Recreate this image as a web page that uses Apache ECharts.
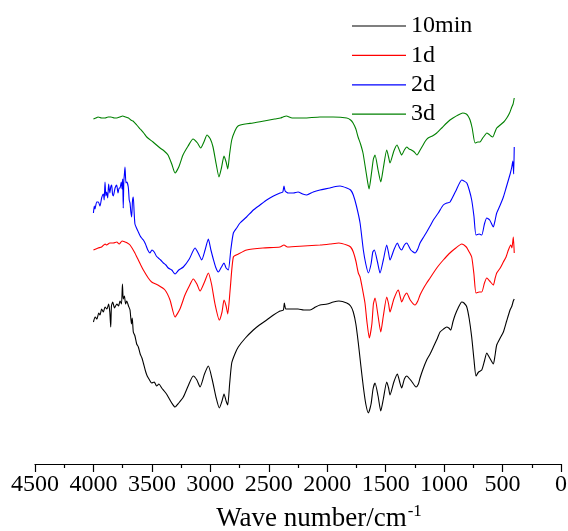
<!DOCTYPE html>
<html>
<head>
<meta charset="utf-8">
<script src="https://cdn.jsdelivr.net/npm/echarts@6/dist/echarts.min.js"></script>
<style>
  html, body { margin: 0; padding: 0; background: #fff; }
  #chart { width: 568px; height: 531px; }
</style>
</head>
<body>
<div id="chart"></div>
<script>
// FTIR spectra: [wavenumber (cm^-1), transmittance (a.u., offset per sample)]
const seriesNames = ['10min', '1d', '2d', '3d'];
const xTicks = [4500, 4000, 3500, 3000, 2500, 2000, 1500, 1000, 500, 0];

const spec10min = [
  [4000,142],[3985,147],[3970,145],[3955,151],[3944,149],[3930,155],[3915,152],[3901,157],
  [3885,155],[3870,160],[3860,152],[3852,137],[3846,158],[3835,162],[3820,156],[3800,160],
  [3785,158],[3773,163],[3760,160],[3752,180],[3745,165],[3735,168],[3725,160],[3715,163],
  [3700,158],[3687,154],[3675,140],[3668,146],[3659,132],[3645,128],[3630,120],[3616,117],
  [3600,110],[3585,106],[3573,101],[3555,93],[3540,88],[3520,84],[3502,81],[3480,82],
  [3460,78],[3440,80],[3416,76],[3395,73],[3375,70],[3360,67],[3330,61],[3302,57],
  [3270,61],[3231,67],[3190,78],[3146,88],[3115,84],[3088,77],[3050,90],[3017,98],
  [2985,85],[2950,66],[2923,56],[2900,63],[2883,70],[2865,63],[2851,59],[2835,80],
  [2817,101],[2790,110],[2761,117],[2700,126],[2632,134],[2580,139],[2518,144],[2460,149],
  [2404,153],[2375,154],[2367,161],[2355,155],[2333,155],[2250,155],[2200,154],[2147,154],
  [2100,157],[2062,159],[2000,160],[1948,162],[1900,163],[1833,161],[1800,158],[1777,152],
  [1755,140],[1734,121],[1712,98],[1691,77],[1670,60],[1648,51],[1625,60],[1608,75],
  [1591,81],[1565,68],[1542,53],[1520,65],[1491,82],[1475,76],[1463,69],[1430,82],
  [1400,90],[1380,82],[1363,76],[1340,85],[1320,88],[1280,83],[1240,77],[1220,80],
  [1206,86],[1180,95],[1149,104],[1120,110],[1092,117],[1060,125],[1035,132],[1005,135],
  [978,137],[960,136],[943,134],[925,142],[906,149],[880,156],[849,162],[830,161],
  [806,157],[785,145],[764,127],[745,105],[727,88],[705,92],[678,94],[655,103],
  [635,111],[610,106],[579,100],[565,108],[550,119],[520,126],[493,132],[465,143],
  [436,154],[420,158],[408,163],[400,165]
];

const spec1d = [
  [4000,214],[3960,216],[3930,217],[3900,220],[3887,219],[3860,221],[3830,221],[3800,222],
  [3780,220],[3755,223],[3730,222],[3710,221],[3687,219],[3650,212],[3616,204],[3595,199],
  [3573,194],[3531,186],[3502,182],[3450,179],[3388,174],[3345,164],[3302,147],[3260,155],
  [3217,169],[3180,178],[3146,185],[3115,180],[3088,173],[3050,182],[3017,191],[2990,180],
  [2960,160],[2923,144],[2900,152],[2883,164],[2865,158],[2851,150],[2830,175],[2803,207],
  [2760,210],[2689,214],[2550,216],[2404,217],[2370,219],[2340,217],[2200,218],[2062,219],
  [1976,220],[1900,221],[1833,219],[1800,217],[1777,212],[1755,203],[1734,191],[1719,187],
  [1700,176],[1677,161],[1660,142],[1640,126],[1618,140],[1605,160],[1591,166],[1565,148],
  [1542,132],[1520,148],[1491,167],[1475,160],[1463,152],[1430,165],[1392,174],[1375,167],
  [1363,162],[1340,168],[1320,171],[1290,164],[1249,159],[1225,163],[1206,169],[1175,176],
  [1149,181],[1120,186],[1092,191],[1050,198],[1007,204],[960,210],[900,216],[849,220],
  [810,217],[790,213],[764,207],[745,190],[727,171],[700,172],[678,172],[655,181],
  [635,186],[610,183],[579,179],[565,185],[550,191],[520,196],[493,202],[470,207],
  [450,214],[430,219],[420,216],[408,227],[400,211]
];

const spec2d = [
  [4000,251],[3993,258],[3987,255],[3972,262],[3958,262],[3944,258],[3930,266],[3915,270],
  [3908,264],[3901,282],[3894,268],[3887,272],[3878,266],[3870,280],[3860,271],[3852,277],
  [3844,279],[3837,270],[3830,268],[3815,276],[3801,279],[3790,271],[3780,276],[3773,276],
  [3762,282],[3755,275],[3750,285],[3745,256],[3740,283],[3735,290],[3730,297],[3722,281],
  [3715,282],[3702,277],[3694,264],[3687,261],[3680,252],[3673,247],[3666,263],[3659,267],
  [3652,252],[3645,240],[3632,236],[3616,232],[3600,228],[3588,226],[3573,224],[3555,220],
  [3535,214],[3516,211],[3500,214],[3480,212],[3462,208],[3445,206],[3425,204],[3402,201],
  [3380,199],[3360,196],[3330,194],[3302,190],[3270,194],[3231,197],[3180,205],[3131,216],
  [3100,210],[3074,204],[3045,214],[3017,225],[2995,214],[2975,205],[2955,197],[2932,192],
  [2905,197],[2883,201],[2865,196],[2846,194],[2825,214],[2803,231],[2775,236],[2746,241],
  [2690,247],[2632,254],[2575,259],[2518,264],[2460,268],[2404,271],[2380,272],[2370,278],
  [2360,273],[2333,271],[2290,271],[2250,272],[2210,270],[2175,269],[2120,272],[2062,274],
  [1976,276],[1948,277],[1890,278],[1833,276],[1800,274],[1777,269],[1750,258],[1719,241],
  [1691,214],[1670,200],[1648,191],[1625,200],[1610,212],[1597,214],[1570,202],[1548,191],
  [1520,204],[1491,219],[1475,211],[1463,204],[1430,214],[1400,221],[1380,216],[1363,214],
  [1340,219],[1320,221],[1285,214],[1249,211],[1225,215],[1206,221],[1175,227],[1149,232],
  [1120,238],[1092,244],[1050,251],[1007,259],[975,261],[949,262],[900,273],[849,284],
  [830,283],[806,281],[785,274],[764,264],[745,248],[727,229],[700,230],[678,229],
  [655,240],[635,246],[610,244],[579,237],[565,243],[550,251],[520,259],[493,267],
  [470,276],[450,284],[435,290],[421,297],[412,303],[405,290],[400,317]
];

const spec3d = [
  [4000,345],[3980,346],[3960,347],[3930,346],[3900,346],[3875,347],[3850,347],[3820,346],
  [3800,346],[3775,347],[3750,348],[3725,347],[3700,346],[3680,344],[3662,343],[3630,339],
  [3600,335],[3570,331],[3544,327],[3490,322],[3430,316],[3395,313],[3362,309],[3330,300],
  [3302,291],[3270,297],[3234,309],[3190,318],[3148,325],[3110,321],[3082,316],[3055,322],
  [3028,329],[3000,325],[2977,317],[2950,300],[2926,287],[2905,296],[2883,308],[2865,302],
  [2851,295],[2835,310],[2817,324],[2790,333],[2763,338],[2700,340],[2635,341],[2540,343],
  [2450,345],[2400,346],[2378,347],[2350,348],[2300,346],[2200,346],[2062,347],[1950,347],
  [1833,346],[1800,344],[1779,341],[1755,335],[1736,327],[1715,320],[1694,311],[1665,290],
  [1642,275],[1620,292],[1605,305],[1591,309],[1565,294],[1542,282],[1520,296],[1491,314],
  [1475,307],[1463,301],[1430,313],[1403,319],[1380,313],[1363,309],[1340,314],[1320,317],
  [1300,315],[1280,314],[1255,312],[1232,309],[1205,314],[1180,319],[1160,323],[1137,326],
  [1100,328],[1063,331],[1020,336],[978,341],[950,344],[924,346],[880,349],[841,351],
  [810,350],[795,348],[778,344],[760,336],[735,321],[712,322],[693,322],[670,326],
  [650,329],[635,331],[620,330],[600,328],[584,327],[565,332],[550,336],[520,339],
  [490,342],[464,346],[440,351],[421,357],[410,360],[400,366]
];

const colors = ['#000000', '#ff0000', '#0000ff', '#008000'];
const spectra = [spec10min, spec1d, spec2d, spec3d];
const serif = '"Liberation Serif", "Times New Roman", serif';

const chart = echarts.init(document.getElementById('chart'), null, { renderer: 'canvas' });

chart.setOption({
  animation: false,
  backgroundColor: '#ffffff',
  grid: { left: 35, right: 7, top: 24, bottom: 67, containLabel: false, outerBoundsMode: 'none' },
  legend: {
    orient: 'vertical',
    left: 352,
    top: 14,
    padding: 0,
    itemWidth: 54,
    itemHeight: 1.2,
    itemGap: 5.4,
    icon: 'rect',
    data: seriesNames,
    textStyle: { fontFamily: serif, fontSize: 24, color: '#000', lineHeight: 24 }
  },
  xAxis: {
    type: 'value',
    inverse: true,
    min: 0,
    max: 4500,
    interval: 500,
    name: '{m|Wave number/cm}{s|-1}',
    nameLocation: 'middle',
    nameGap: 39,
    nameTextStyle: {
      padding: [0, 0, 0, 42],
      rich: {
        m: { fontFamily: serif, fontSize: 27, color: '#000' },
        s: { fontFamily: serif, fontSize: 17, color: '#000', padding: [0, 0, 14, 1] }
      }
    },
    axisLine: { show: true, lineStyle: { color: '#000', width: 1.2 } },
    axisTick: { show: true, inside: false, length: 8, lineStyle: { color: '#000', width: 1.2 } },
    minorTick: { show: true, splitNumber: 2, length: 4, lineStyle: { color: '#000', width: 1.2 } },
    splitLine: { show: false },
    axisLabel: {
      margin: 9,
      fontFamily: serif,
      fontSize: 24,
      color: '#000',
      formatter: v => (xTicks.indexOf(v) >= 0 ? String(v) : '')
    }
  },
  yAxis: {
    type: 'value',
    min: 0,
    max: 440,
    show: false
  },
  series: spectra.map((d, i) => ({
    name: seriesNames[i],
    type: 'line',
    data: d,
    symbol: 'none',
    showSymbol: false,
    smooth: 0.2,
    lineStyle: { color: colors[i], width: 1.1 },
    itemStyle: { color: colors[i] }
  }))
});
</script>
</body>
</html>
